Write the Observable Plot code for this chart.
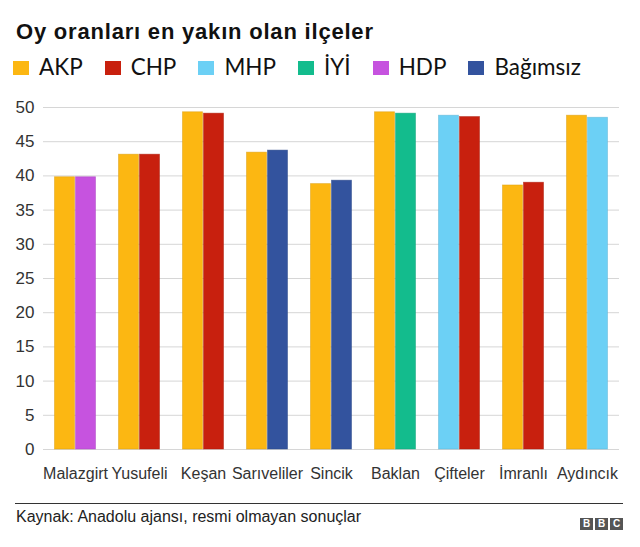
<!DOCTYPE html>
<html>
<head>
<meta charset="utf-8">
<script src="https://cdn.jsdelivr.net/npm/d3@7"></script>
<script src="https://cdn.jsdelivr.net/npm/@observablehq/plot@0.6"></script>
<style>
  html, body { margin: 0; padding: 0; background: #fff; }
  body { width: 640px; height: 547px; overflow: hidden; font-family: "Liberation Sans", Arial, sans-serif; color: #222; }
  #title { margin: 19px 0 0 16px; height: 26px; line-height: 26px; font-size: 22px; font-weight: bold; letter-spacing: 0.8px; color: #111; white-space: nowrap; }
  #legend { margin: 9px 0 0 13px; height: 26px; display: flex; align-items: center; font-family: Lato, "Liberation Sans", sans-serif; font-size: 22.5px; line-height: 26px; color: #111; }
  #legend .item { display: flex; align-items: center; margin-right: 22px; }
  #legend .sw { width: 16px; height: 14px; margin-right: 10px; margin-top: 2px; }
  #chart { margin-top: 12px; height: 395px; }
  #chart svg [aria-label^="y-axis"] text { font-size: 17px; }
  #rule { margin: 16px 0 0 15px; width: 608px; border-top: 1.5px solid #333; height: 0; }
  #footer { margin: 4px 0 0 16px; width: 607px; display: flex; justify-content: space-between; align-items: flex-start; font-size: 16px; line-height: 18px; color: #222; }
  #bbc { display: flex; gap: 2px; margin-top: 10px; }
  #bbc span { width: 13px; height: 12px; background: #555; color: #fff; font-size: 10px; font-weight: bold; line-height: 12px; text-align: center; }
</style>
</head>
<body>
<div id="title">Oy oranları en yakın olan ilçeler</div>
<div id="legend"></div>
<div id="chart"></div>
<div id="rule"></div>
<div id="footer"><span>Kaynak: Anadolu ajansı, resmi olmayan sonuçlar</span><div id="bbc"><span>B</span><span>B</span><span>C</span></div></div>
<script>
const districts = ["Malazgirt", "Yusufeli", "Keşan", "Sarıveliler", "Sincik", "Baklan", "Çifteler", "İmranlı", "Aydıncık"];
const firstParty = ["AKP", "AKP", "AKP", "AKP", "AKP", "AKP", "MHP", "AKP", "AKP"];
const firstValue = [39.8, 43.1, 49.3, 43.4, 38.8, 49.3, 48.8, 38.6, 48.8];
const secondParty = ["HDP", "CHP", "CHP", "Bağımsız", "Bağımsız", "İYİ", "CHP", "CHP", "MHP"];
const secondValue = [39.8, 43.1, 49.1, 43.7, 39.3, 49.1, 48.6, 39.0, 48.5];
const parties = ["AKP", "CHP", "MHP", "İYİ", "HDP", "Bağımsız"];
const partyColors = ["#FCB712", "#C8200E", "#6CD0F5", "#13BC8D", "#C653DF", "#33539E"];
const yTicks = [0, 5, 10, 15, 20, 25, 30, 35, 40, 45, 50];

// legend
const legend = document.getElementById("legend");
parties.forEach((p, i) => {
  const it = document.createElement("div");
  it.className = "item";
  const sw = document.createElement("span");
  sw.className = "sw";
  sw.style.background = partyColors[i];
  const tx = document.createElement("span");
  tx.textContent = p;
  it.appendChild(sw); it.appendChild(tx);
  legend.appendChild(it);
});

const rows = [];
districts.forEach((d, i) => {
  rows.push({district: d, slot: 0, party: firstParty[i], value: firstValue[i]});
  rows.push({district: d, slot: 1, party: secondParty[i], value: secondValue[i]});
});
const strokeOf = p => d3.color(partyColors[parties.indexOf(p)]).darker(0.4).formatHex();

const chart = Plot.plot({
  width: 640,
  height: 395,
  marginTop: 15,
  marginBottom: 38,
  marginLeft: 42.5,
  marginRight: 21.5,
  style: {fontFamily: "'Liberation Sans', Arial, sans-serif", fontSize: "16px", color: "#333", background: "#fff"},
  fx: {domain: districts, padding: 0, label: null, axis: "bottom", tickSize: 0, tickPadding: 18},
  x: {domain: [0, 1], axis: null, paddingInner: 0.06, paddingOuter: 0.545},
  y: {domain: [0, 50], ticks: yTicks, label: null, tickSize: 0, tickPadding: 9},
  color: {domain: parties, range: partyColors},
  marks: [
    Plot.ruleY(yTicks, {stroke: "#d6d6d6", strokeWidth: 1}),
    Plot.barY(rows, {fx: "district", x: "slot", y: "value", fill: "party", stroke: d => strokeOf(d.party), strokeWidth: 0.8, strokeOpacity: 0.6})
  ]
});
document.getElementById("chart").appendChild(chart);
</script>
</body>
</html>
